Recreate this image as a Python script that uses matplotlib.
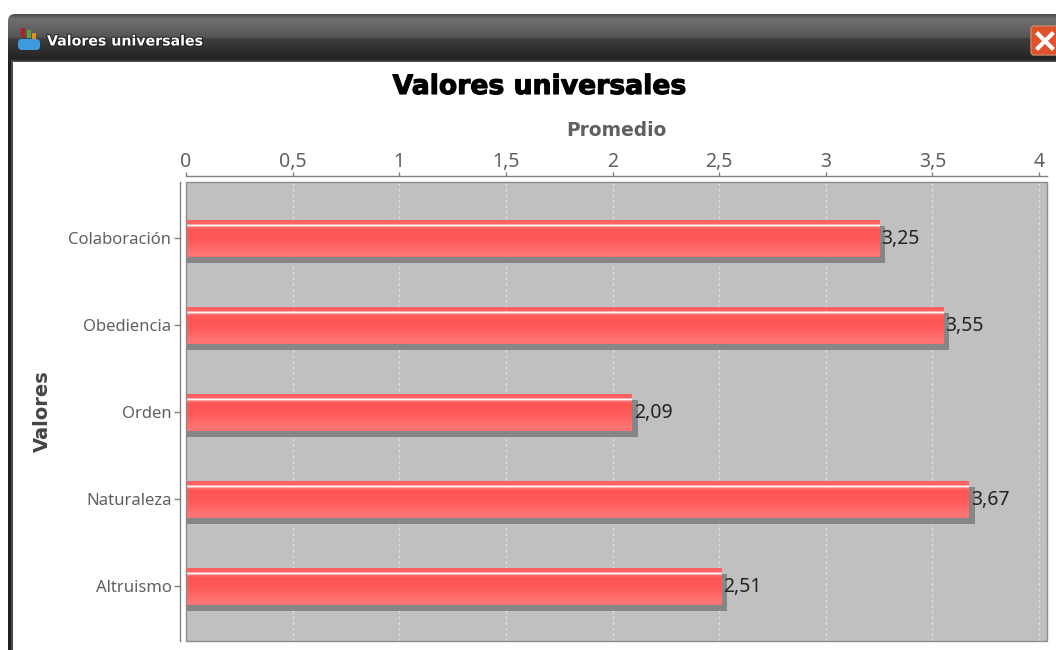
#!/usr/bin/env python3
"""Valores universales: horizontal bars inside a dark desktop window frame."""
import matplotlib
matplotlib.use("Agg")
import matplotlib.patheffects as pe
import matplotlib.pyplot as plt
import numpy as np
from matplotlib.colors import to_rgb
from matplotlib.patches import FancyBboxPatch, Rectangle
from matplotlib.transforms import Affine2D

plt.rcParams["font.family"] = ["Noto Sans", "DejaVu Sans"]

WINDOW_TITLE = "Valores universales"
CHART_TITLE = "Valores universales"
X_LABEL = "Promedio"
Y_LABEL = "Valores"
CATEGORIES = ["Colaboración", "Obediencia", "Orden", "Naturaleza", "Altruismo"]
VALUES = [3.25, 3.55, 2.09, 3.67, 2.51]
X_TICKS = [0, 0.5, 1, 1.5, 2, 2.5, 3, 3.5, 4]

W, H = 1056, 650
GREY = "#606060"


def comma(v):
    return f"{v:g}".replace(".", ",")


def gradient(stops, n=148):
    # vertical colour ramp, stops are (position, colour)
    pos = [s[0] for s in stops]
    cols = np.array([to_rgb(s[1]) for s in stops])
    t = np.linspace(0, 1, n)
    return np.stack([np.interp(t, pos, cols[:, i]) for i in range(3)], axis=1)[:, None, :]


fig = plt.figure(figsize=(W / 100, H / 100), dpi=100, facecolor="white")

# window frame, in pixel coordinates
bg = fig.add_axes([0, 0, 1, 1])
bg.set_xlim(0, W)
bg.set_ylim(H, 0)
bg.axis("off")
bar_img = gradient([(0, "#4a4a4a"), (0.1, "#707070"), (0.48, "#555555"),
                    (0.52, "#3e3e3e"), (0.95, "#222222"), (1, "#555555")])
im = bg.imshow(bar_img, extent=(8, W + 10, 62, 14), aspect="auto", zorder=2)
clip = FancyBboxPatch((8, 14), W + 30, 70, boxstyle="round,pad=0,rounding_size=7",
                      fc="none", ec="none", transform=bg.transData)
bg.add_patch(clip)
im.set_clip_path(clip)
bg.add_patch(Rectangle((8, 60), 3, H, fc="#222222", ec="none", zorder=2))
bg.add_patch(Rectangle((11, 60), 2, H, fc="#4a4a4a", ec="none", zorder=3))
bg.add_patch(Rectangle((13, 62), W, H, fc="white", ec="none", zorder=2))
bg.set_xlim(0, W)
bg.set_ylim(H, 0)

# title bar icon
bg.add_patch(Rectangle((21, 28), 4, 9, fc="#b02020", ec="none", zorder=4))
bg.add_patch(Rectangle((27, 30), 4, 8, fc="#60a040", ec="none", zorder=4))
bg.add_patch(Rectangle((32, 33), 4, 6, fc="#e09020", ec="none", zorder=4))
bg.add_patch(FancyBboxPatch((18, 39), 22, 11, boxstyle="round,pad=0,rounding_size=4",
                            fc="#3f9be0", ec="none", zorder=4))
bg.text(47, 41.5, WINDOW_TITLE, color="white", fontsize=10.2, fontweight="bold",
        family="DejaVu Sans", va="center", ha="left", zorder=5,
        path_effects=[pe.withStroke(linewidth=1.5, foreground="#222222")])

# close button
bg.add_patch(FancyBboxPatch((1031, 26), 40, 29, boxstyle="round,pad=0,rounding_size=3",
                            fc="#e0502a", ec="#c9886a", lw=1, zorder=4))
bg.plot([1038, 1052], [34, 48], color="white", lw=3, zorder=5)
bg.plot([1038, 1052], [48, 34], color="white", lw=3, zorder=5)

# plot area
left, right, top, bottom = 186, 1047, 182, 641
ax = fig.add_axes([left / W, 1 - bottom / H, (right - left) / W, (bottom - top) / H])
ax.set_facecolor("#c0c0c0")
ax.set_zorder(2)

ypos = np.arange(len(CATEGORIES))
shadow_tf = Affine2D().translate(6, -6)
ax.barh(ypos, [v + 0.05 for v in VALUES], left=-0.05, height=0.425, color="#868686",
        transform=ax.transData + shadow_tf, zorder=2)
bars = ax.barh(ypos, VALUES, height=0.425, color="#ff5555", zorder=3)

bar_grad = gradient([(0, "#ff5f5f"), (0.115, "#ff6666"), (0.125, "#ffffff"), (0.165, "#fff4f4"),
                     (0.175, "#ff7a7a"), (0.25, "#ff5555"), (0.55, "#ff5a5a"),
                     (0.93, "#ff7676"), (1, "#ff7070")])
for rect in bars:
    x0, y0 = rect.get_x(), rect.get_y()
    img = ax.imshow(bar_grad, extent=(x0, x0 + rect.get_width(), y0 + rect.get_height(), y0),
                    aspect="auto", zorder=4)
    img.set_clip_path(rect)

for y, v in zip(ypos, VALUES):
    ax.annotate(comma(v), (v, y), xytext=(2, -1), textcoords="offset pixels",
                va="center", ha="left", fontsize=14, color="#222222", zorder=5)

ax.set_xlim(0.002, 4.037)
ax.set_ylim(4.632, -0.644)
ax.xaxis.tick_top()
ax.xaxis.set_label_position("top")
ax.set_xticks(X_TICKS)
ax.set_xticklabels([comma(t) for t in X_TICKS])
ax.set_yticks(ypos)
ax.set_yticklabels(CATEGORIES)
ax.tick_params(axis="x", length=3, width=1, color="#808080", labelcolor=GREY,
               labelsize=14, pad=0.5)
ax.tick_params(axis="y", length=4, width=1, color="#808080", labelcolor=GREY,
               labelsize=12, pad=2)
ax.grid(axis="x", color="#dedede", linestyle=(0, (2, 2)), linewidth=1, zorder=1)
ax.set_axisbelow(True)

ax.spines["right"].set_visible(False)
ax.spines["bottom"].set_visible(False)
ax.spines["top"].set_position(("outward", 4))
ax.spines["left"].set_position(("outward", 4.5))
ax.spines["top"].set_color("#808080")
ax.spines["left"].set_color("#808080")
ax.spines["top"].set_linewidth(1)
ax.spines["left"].set_linewidth(1)

# panel border, the spines sit outside it
ax.add_patch(Rectangle((0, 0), 1, 1, transform=ax.transAxes, fc="none", ec="#8c8c8c",
                       lw=1, zorder=6, clip_on=False))

ax.set_xlabel(X_LABEL, fontsize=13.4, fontweight="bold", family="DejaVu Sans", color=GREY, labelpad=11)
ax.set_ylabel(Y_LABEL, fontsize=14, fontweight="bold", family="DejaVu Sans", color="#444444", labelpad=12)
fig.text(539 / W, 1 - 87 / H, CHART_TITLE, fontsize=19.2, fontweight="bold", color="black",
         family="DejaVu Sans", ha="center", va="center", zorder=5,
         path_effects=[pe.withStroke(linewidth=0.8, foreground="black")])

fig.savefig("out.png", dpi=100)
plt.close(fig)
